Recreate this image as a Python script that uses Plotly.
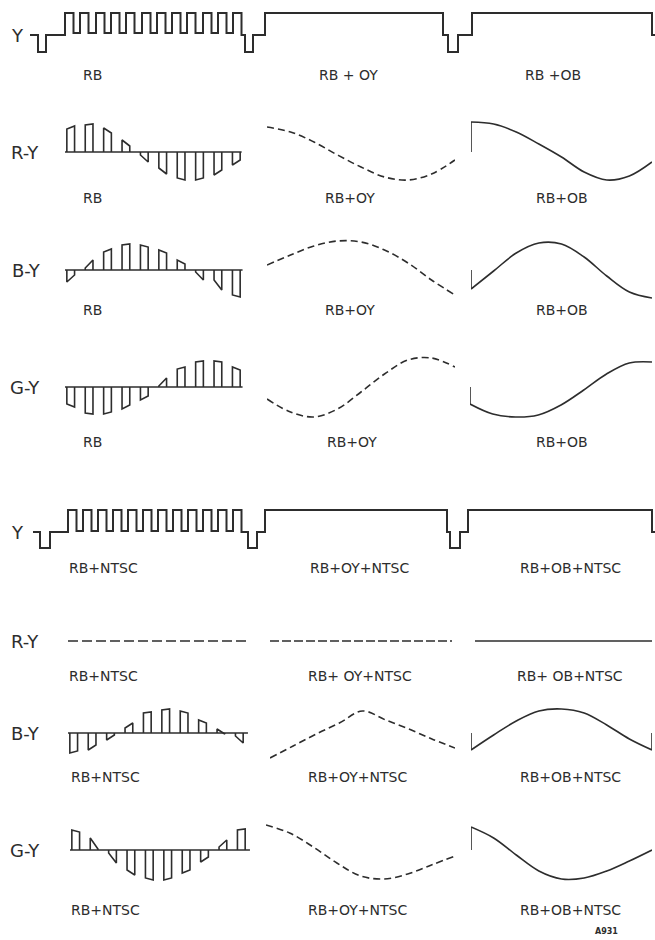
import plotly.graph_objects as go

W, H = 655, 940
INK = "#2d2d2d"
FONT = "DejaVu Sans"

# ---- luminance lines (Y): time of every level change and the level after it
Y_RB_T = [0, 8, 16, 35, 43.5, 50, 58.5, 66, 74.5, 81, 89.5, 96, 104.5, 112, 120.5,
          127, 135.5, 142, 150.5, 157, 165.5, 173, 181.5, 188, 196.5, 203, 211.5,
          215, 223, 235, 413, 418, 428, 442, 622, 625]
Y_RB_V = [0, -17, 0] + [22, 2] * 11 + [22, 0, -17, 0, 22, 0, -17, 0, 22, 0, 0]

Y_NTSC_T = [0, 7, 17, 35, 43.5, 50, 58.5, 65, 73.5, 80, 88.5, 95, 103.5, 110, 118.5,
            125, 133.5, 140, 148.5, 155, 163.5, 170, 178.5, 185, 193.5, 200, 208.5,
            215, 224, 232, 414, 417, 427, 435, 619, 622]
Y_NTSC_V = [0, -16, 0] + [22, 1] * 11 + [22, 0, -16, 0, 22, 0, -16, 0, 22, 0, 0]

# ---- gated colour-difference samples (RB): top of each sample at its leading / trailing edge
RY_RB_LEAD = [23, 27, 24, 12, -3, -16, -26, -28, -23, -13]
RY_RB_TRAIL = [26, 28, 19, 6, -10, -22, -28, -26, -18, -8]
BY_RB_LEAD = [-12, 2, 18, 25, 25, 20, 10, -2, -10, -25]
BY_RB_TRAIL = [-5, 10, 21, 26, 23, 17, 6, -10, -20, -27]
GY_RB_LEAD = [-17, -26, -27, -22, -13, 1, 18, 25, 26, 20]
GY_RB_TRAIL = [-20, -27, -25, -18, -9, 9, 20, 26, 25, 17]
BY_NTSC_LEAD = [-20, -17, -7, 5, 20, 23, 22, 13, 4, -3]
BY_NTSC_TRAIL = [-18, -12, -2, 10, 21, 24, 20, 10, -1, -10]
GY_NTSC_LEAD = [20, 12, -3, -20, -28, -30, -23, -12, 3, 20]
GY_NTSC_TRAIL = [18, 1, -13, -25, -30, -28, -20, -7, 10, 21]

# ---- continuous colour-difference signals, sampled across one active line
CURVE_T = [0, 0.125, 0.25, 0.375, 0.5, 0.625, 0.75, 0.875, 1]
RY_OY = [25, 20, 10, -3, -15, -25, -28, -22, -8]
RY_OB = [30, 28, 20, 8, -5, -20, -28, -24, -10]
BY_OY = [5, 15, 24, 29, 28, 20, 7, -10, -25]
BY_OB = [-19, -1, 17, 27, 26, 13, -6, -22, -28]
GY_OY = [-12, -25, -30, -22, -5, 13, 27, 29, 20]
GY_OB = [-17, -27, -30, -28, -18, -3, 13, 24, 25]
RY_NTSC = [0, 0]
BY_OY_NTSC = [-25, -13, -1, 10, 22, 13, 4, -6, -15]
BY_OB_NTSC = [-17, -2, 12, 22, 24, 20, 8, -6, -17]
GY_OY_NTSC = [25, 17, 3, -13, -26, -29, -24, -15, -6]
GY_OB_NTSC = [23, 12, -5, -21, -29, -28, -21, -11, 0]

ROW_NAMES = ["Y", "R-Y", "B-Y", "G-Y", "Y", "R-Y", "B-Y", "G-Y"]
CAPTIONS = [
    ["RB", "RB + OY", "RB +OB"],
    ["RB", "RB+OY", "RB+OB"],
    ["RB", "RB+OY", "RB+OB"],
    ["RB", "RB+OY", "RB+OB"],
    ["RB+NTSC", "RB+OY+NTSC", "RB+OB+NTSC"],
    ["RB+NTSC", "RB+ OY+NTSC", "RB+ OB+NTSC"],
    ["RB+NTSC", "RB+OY+NTSC", "RB+OB+NTSC"],
    ["RB+NTSC", "RB+OY+NTSC", "RB+OB+NTSC"],
]

# ---- layout (pixels)
ROW_BASE = [35, 152, 270, 387, 532, 641, 733, 850]
ROW_NAME_X = [17, 25, 26, 25, 17, 25, 25, 25]
CAPTION_Y = [75, 198, 310, 442, 568, 676, 777, 910]
CAPTION_X = [[92, 348, 553], [92, 350, 562], [92, 350, 562], [92, 352, 562],
             [103, 360, 570], [103, 360, 570], [105, 358, 570], [105, 358, 570]]

fig = go.Figure()
axes = {}
count = [0]


def panel(x0, x1, xr, base, below=40, above=40):
    count[0] += 1
    k = "" if count[0] == 1 else str(count[0])
    axes["xaxis" + k] = dict(domain=[x0 / W, x1 / W], range=xr, visible=False,
                             anchor="y" + k, fixedrange=True)
    axes["yaxis" + k] = dict(domain=[1 - (base + below) / H, 1 - (base - above) / H],
                             range=[-below, above], visible=False, anchor="x" + k,
                             fixedrange=True)
    return "x" + k, "y" + k


def line(xa, ya, x, y, width=1.6, dash="solid", shape="linear"):
    fig.add_trace(go.Scatter(
        x=x, y=y, xaxis=xa, yaxis=ya, mode="lines", hoverinfo="skip",
        showlegend=False, line=dict(color=INK, width=width, dash=dash, shape=shape),
    ))


def luminance(t, v, x0, base):
    xa, ya = panel(x0, x0 + t[-1], [0, t[-1]], base, 25, 30)
    line(xa, ya, t, v, width=2, shape="hv")


def gated(lead, trail, x0, base, end):
    xa, ya = panel(x0, x0 + 184, [0, 10], base)
    line(xa, ya, [0, end], [0, 0])
    xs, ys = [], []
    for k, (a, b) in enumerate(zip(lead, trail)):
        xs += [k + 0.1, k + 0.1, k + 0.52, k + 0.52, None]
        ys += [0, a, b, 0, None]
    line(xa, ya, xs, ys)


def curve(values, x0, x1, base, dash="solid", lead_in=False, lead_out=False):
    xa, ya = panel(x0, x1, [0, 1], base)
    t = CURVE_T if len(values) == len(CURVE_T) else [0, 1]
    line(xa, ya, t, values, dash=dash, shape="spline")
    if lead_in:
        line(xa, ya, [0, 0], [0, values[0]])
    if lead_out:
        line(xa, ya, [1, 1], [values[-1], 0])


DASH = "7px,4px"

# row 1 / row 5: luminance
luminance(Y_RB_T, Y_RB_V, 30, ROW_BASE[0])
luminance(Y_NTSC_T, Y_NTSC_V, 33, ROW_BASE[4])

# rows 2-4: RB, RB+OY, RB+OB
gated(RY_RB_LEAD, RY_RB_TRAIL, 65, ROW_BASE[1], 9.6)
curve(RY_OY, 267, 455, ROW_BASE[1], dash=DASH)
curve(RY_OB, 471, 652, ROW_BASE[1], lead_in=True)

gated(BY_RB_LEAD, BY_RB_TRAIL, 65, ROW_BASE[2], 9.65)
curve(BY_OY, 267, 455, ROW_BASE[2], dash=DASH)
curve(BY_OB, 471, 652, ROW_BASE[2], lead_in=True)

gated(GY_RB_LEAD, GY_RB_TRAIL, 65, ROW_BASE[3], 9.65)
curve(GY_OY, 267, 455, ROW_BASE[3], dash=DASH)
curve(GY_OB, 470, 652, ROW_BASE[3], lead_in=True)

# rows 6-8: with NTSC
curve(RY_NTSC, 68, 248, ROW_BASE[5], dash="10px,4px")
curve(RY_NTSC, 270, 452, ROW_BASE[5], dash="9px,3px")
curve(RY_NTSC, 475, 652, ROW_BASE[5])

gated(BY_NTSC_LEAD, BY_NTSC_TRAIL, 68, ROW_BASE[6], 9.78)
curve(BY_OY_NTSC, 270, 455, ROW_BASE[6], dash=DASH)
curve(BY_OB_NTSC, 471, 652, ROW_BASE[6], lead_in=True, lead_out=True)

gated(GY_NTSC_LEAD, GY_NTSC_TRAIL, 70, ROW_BASE[7], 9.78)
curve(GY_OY_NTSC, 266, 455, ROW_BASE[7], dash=DASH)
curve(GY_OB_NTSC, 471, 652, ROW_BASE[7], lead_in=True)


def label(text, x, y, size):
    return dict(text=text, x=x / W, y=1 - y / H, xref="paper", yref="paper",
                xanchor="center", yanchor="middle", showarrow=False,
                font=dict(family=FONT, size=size, color=INK))


notes = []
for r, name in enumerate(ROW_NAMES):
    notes.append(label(name, ROW_NAME_X[r], ROW_BASE[r], 18))
    for c, cap in enumerate(CAPTIONS[r]):
        notes.append(label(cap, CAPTION_X[r][c], CAPTION_Y[r], 14))
notes.append(label("<b>A931</b>", 606, 931, 8))

fig.update_layout(
    width=W, height=H, margin=dict(l=0, r=0, t=0, b=0),
    paper_bgcolor="white", plot_bgcolor="rgba(0,0,0,0)",
    showlegend=False, annotations=notes, **axes,
)
fig.write_html("out.html", config={"displayModeBar": False},
               post_script="document.body.style.margin = '0';")
